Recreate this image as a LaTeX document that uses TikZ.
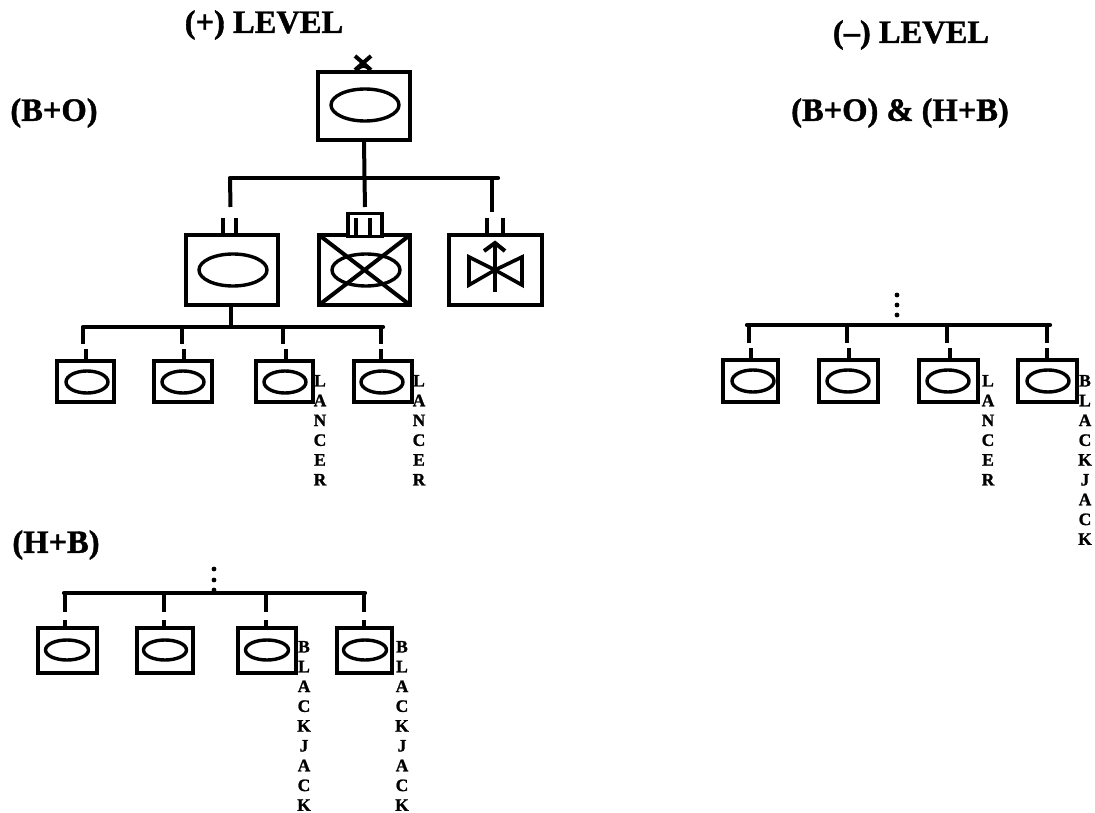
\documentclass[tikz,border=0pt]{standalone}
\usepackage{fontspec}
\setmainfont{Liberation Serif}[BoldFeatures={FakeBold=1.2}]
\tikzset{
  x=1pt,y=-1pt,
  title/.style={font=\fontsize{32.5}{36}\selectfont\bfseries,inner sep=0pt,anchor=center},
  vert/.style={font=\fontsize{17.5}{19.8}\selectfont\bfseries,align=center,inner sep=0pt,outer sep=0pt,anchor=north},
  unit/.style={draw=black,line width=3.6pt,rectangle,inner sep=0pt,outer sep=0pt},
  oval/.style={draw=black,line width=3.4pt,ellipse,inner sep=0pt,outer sep=0pt},
  bus/.style={draw=black,line width=4.2pt,line cap=round},
  wire/.style={draw=black,line width=4pt},
  thinwire/.style={draw=black,line width=3.3pt},
}
\usetikzlibrary{shapes.geometric}
\begin{document}
\begin{tikzpicture}
\path[use as bounding box,fill=white] (0,0) rectangle (1095,813);
% titles
\node[title] (t1) at (264,25) {(+) LEVEL};
\node[title] (t2) at (911,35) {(--) LEVEL};
\node[title] (t3) at (54,113) {(B+O)};
\node[title] (t4) at (900,113) {(B+O) \& (H+B)};
\node[title] (t5) at (56,545) {(H+B)};
% top box
\node[unit,minimum width=92pt,minimum height=68pt] (top) at (364,106) {};
\node[oval,minimum width=68pt,minimum height=32pt] (topo) at (365,105) {};
\draw[line width=4pt] (355,56) -- (371,70) (371,56) -- (355,70);
\draw[line width=2.5pt] (357,71) .. controls (361,65) and (366,65) .. (370,71);
% second row
\node[unit,minimum width=92pt,minimum height=70pt] (a) at (232,270) {};
\node[oval,minimum width=68pt,minimum height=32pt] (ao) at (233,270) {};
\node[unit,minimum width=91pt,minimum height=70pt] (b) at (364.5,270) {};
\node[oval,minimum width=68pt,minimum height=32pt] (bo) at (366,270) {};
\node[unit,minimum width=93pt,minimum height=70pt] (c) at (495.5,270) {};
\draw[line width=4pt] (b.north west) -- (b.south east) (b.north east) -- (b.south west);
\node[draw=black,line width=3.2pt,inner sep=0pt,outer sep=0pt,fill=white,minimum width=34pt,minimum height=23pt] (bs) at (365,225) {};
% valve
\coordinate (vc) at (495,270);
\draw[line width=3.6pt,line join=miter] (vc) -- (469,257) -- (469,285) -- cycle;
\draw[line width=3.6pt,line join=miter] (vc) -- (522,257) -- (522,285) -- cycle;
\draw[line width=3.3pt] (495,292) -- (495,243);
\draw[line width=4pt] (484,251) -- (495,243) -- (505,251);
% top connectors
\coordinate (busAl) at (230,178); \coordinate (busAr) at (498,178);
\coordinate (busAm) at (364.5,178);
\draw[bus] (busAl) -- (busAr);
\draw[wire] (top.south) -- (busAm);
\draw[wire] (busAl) -- (230.5,207);
\draw[wire] (busAm) -- (365,207);
\draw[wire] (492,178) -- (492,212);
\draw[thinwire] (223,233) -- (223,218) (236,233) -- (236,218);
\draw[thinwire] (356,235) -- (356,218) (370,235) -- (370,218);
\draw[thinwire] (487,233) -- (487,218) (503,233) -- (503,218);
% row 3 under (B+O)
\coordinate (busBl) at (83,327); \coordinate (busBr) at (383,327);
\draw[bus] (busBl) -- (busBr);
\draw[wire] (231,305) -- (231,327);
\foreach \n/\l/\r/\ex/\dx/\sx in {p/57/114/87/83/86, q/154/212/183/182/184, r/256/313/285/283/286, s/354/412/382/381/381}{
  \node[unit,minimum width={\r-\l},minimum height=41pt] (\n) at ({(\l+\r)/2},381.5) {};
  \node[oval,minimum width=42pt,minimum height=22pt] (\n o) at (\ex,382) {};
  \draw[wire] (\dx,327) -- (\dx,344);
  \draw[thinwire] (\sx,361) -- (\sx,349);
}
\node[vert] (lr) at (320,375) {L\\A\\N\\C\\E\\R};
\node[vert] (ls) at (419,375) {L\\A\\N\\C\\E\\R};
% (H+B)
\coordinate (busCl) at (64,593); \coordinate (busCr) at (365,593);
\draw[bus] (busCl) -- (busCr);
\foreach \n/\l/\r/\ex/\dx in {h1/38/97/67/65, h2/137/193/165/164, h3/238/296/267/266, h4/337/392/365/364}{
  \node[unit,minimum width={\r-\l},minimum height=45pt] (\n) at ({(\l+\r)/2},650.5) {};
  \node[oval,minimum width=43pt,minimum height=20pt] (\n o) at (\ex,650) {};
  \draw[wire] (\dx,593) -- (\dx,612);
  \draw[thinwire] (\dx,628) -- (\dx,620);
}
\foreach \y in {569,580,590}{\fill (214,\y) circle[radius=2.4pt];}
\node[vert] (bj1) at (304,641) {B\\L\\A\\C\\K\\J\\A\\C\\K};
\node[vert] (bj2) at (402,641) {B\\L\\A\\C\\K\\J\\A\\C\\K};
% (-) level row
\coordinate (busDl) at (747,325); \coordinate (busDr) at (1050,325);
\draw[bus] (busDl) -- (busDr);
\foreach \n/\l/\r/\ex/\dx/\sx in {m1/723/778/753/749/751, m2/819/878/848/847/849, m3/919/978/948/947/950, m4/1018/1077/1048/1047/1047}{
  \node[unit,minimum width={\r-\l},minimum height=42pt] (\n) at ({(\l+\r)/2},381) {};
  \node[oval,minimum width=42pt,minimum height=22pt] (\n o) at (\ex,381) {};
  \draw[wire] (\dx,325) -- (\dx,343);
  \draw[thinwire] (\sx,359) -- (\sx,348);
}
\foreach \y in {295,305,315}{\fill (897,\y) circle[radius=2.4pt];}
\node[vert] (lm) at (988,375) {L\\A\\N\\C\\E\\R};
\node[vert] (bm) at (1085,375) {B\\L\\A\\C\\K\\J\\A\\C\\K};
\end{tikzpicture}
\end{document}
